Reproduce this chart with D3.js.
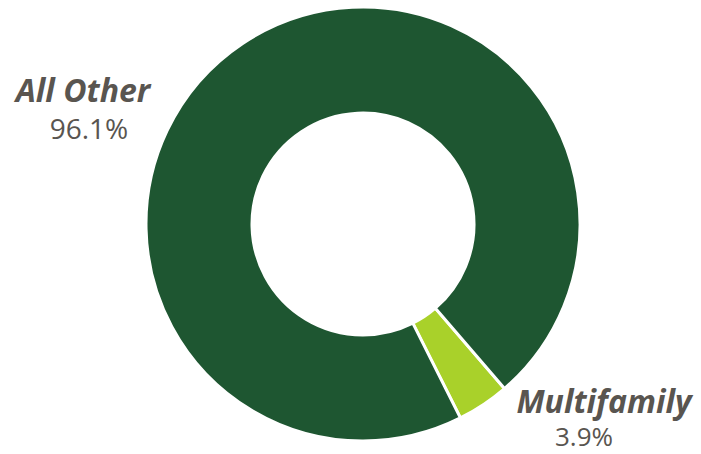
<!DOCTYPE html>
<html lang="en">
<head>
    <meta charset="utf-8">
    <title>Donut</title>
    <script src="https://cdn.jsdelivr.net/npm/d3@7"></script>
    <style>
        body { margin: 0; background: #fff; }
        text { font-family: "Open Sans", "Liberation Sans", sans-serif; fill: #595550; }
    </style>
</head>
<body>
    <div class="chart"></div>
    <script>
        let w = 701;
        let h = 454;

        let categories = ["Multifamily", "All Other"];
        let shares = [3.9, 96.1];
        let shareLabels = ["3.9%", "96.1%"];
        let colors = ["#a9d12a", "#1e5631"];

        let svg = d3.select(".chart").append("svg")
            .attr("width", w)
            .attr("height", h);

        let cx = 363, cy = 224;
        let outer = 217, inner = 111;

        // multifamily wedge sits at roughly 139deg clockwise from top
        let start = 139.3 * Math.PI / 180;
        let pie = d3.pie()
            .sort(null)
            .startAngle(start)
            .endAngle(start + 2 * Math.PI)
            .value(d => d);

        let arc = d3.arc().innerRadius(inner).outerRadius(outer);

        let g = svg.append("g").attr("transform", `translate(${cx},${cy})`);
        g.selectAll("path")
            .data(pie(shares))
            .enter()
            .append("path")
                .attr("d", arc)
                .attr("fill", (d, i) => colors[i])
                .attr("stroke", "#fff")
                .attr("stroke-width", 3)
                .attr("stroke-linejoin", "miter");

        // labels
        let labelPos = [
            { nx: 604, ny: 413, px: 584, py: 446, ps: 26 },
            { nx: 83, ny: 102, px: 89, py: 139, ps: 28 }
        ];

        categories.forEach(function (c, i) {
            let p = labelPos[i];
            svg.append("text")
                .attr("x", p.nx).attr("y", p.ny)
                .attr("text-anchor", "middle")
                .style("font-size", "32px")
                .style("font-weight", "bold")
                .style("font-style", "italic")
                .text(c);
            svg.append("text")
                .attr("x", p.px).attr("y", p.py)
                .attr("text-anchor", "middle")
                .style("font-size", p.ps + "px")
                .text(shareLabels[i]);
        });
    </script>
</body>
</html>
